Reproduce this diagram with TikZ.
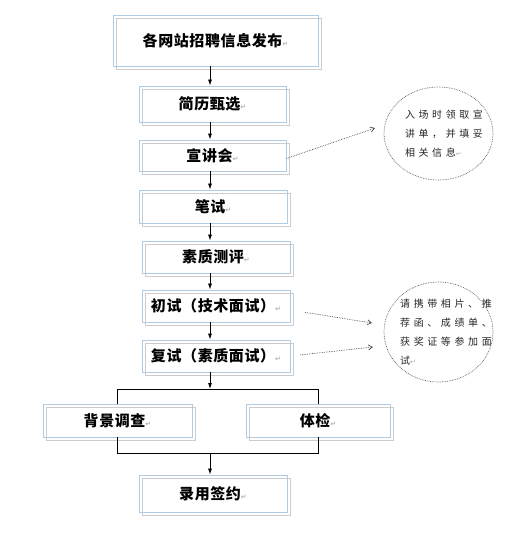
\documentclass[tikz,border=0pt]{standalone}
\usepackage{fontspec}
\newfontfamily\cjk[LetterSpace=4]{Noto Sans CJK SC}
\newfontfamily\notefont[LetterSpace=36]{Noto Sans CJK SC}
\newfontfamily\markfont{DejaVu Sans}
\usetikzlibrary{arrows.meta,positioning,calc,shapes.geometric}
\definecolor{boxblue}{RGB}{176,204,228}
\newcommand{\parmark}{{\markfont\fontsize{7}{7}\selectfont\color{gray!60}↵}}

\begin{document}
\begin{tikzpicture}[
    x=1pt, y=-1pt,
    every node/.style={font=\cjk\bfseries\fontsize{15}{18}\selectfont},
    stage/.style={rectangle, draw=boxblue, line width=0.9pt, inner sep=0pt,
                  align=center,
                  preaction={draw=gray!40, line width=0.9pt,
                             transform canvas={xshift=3pt, yshift=-3pt}}},
    note/.style={ellipse, draw=gray!70!black, densely dotted, line width=0.7pt,
                 inner sep=0pt},
    notetext/.style={font=\notefont\fontsize{10}{19}\selectfont, align=left,
                     text=black!85, inner sep=0pt},
    arr/.style={-{Latex[length=6pt, width=4pt]}, line width=0.8pt},
    link/.style={line width=0.8pt},
    hint/.style={-{Straight Barb[length=4pt, width=5pt]}, densely dotted,
                 gray!60!black, line width=0.7pt},
]
\useasboundingbox (0,0) rectangle (515,546);

% Main column of steps
\coordinate (spine) at (210,0);
\node[stage, minimum width=205, minimum height=51] (post)    at (215.5,40.5) {各网站招聘信息发布\parmark};
\node[stage, minimum width=147, minimum height=36] (screen)  at (212.5,104)  {简历甄选\parmark};
\node[stage, minimum width=147, minimum height=31] (talk)    at (212.5,155.5){宣讲会\parmark};
\node[stage, minimum width=148, minimum height=33] (written) at (213,206.5)  {笔试\parmark};
\node[stage, minimum width=148, minimum height=32] (quality) at (216,257)    {素质测评\parmark};
\node[stage, minimum width=148, minimum height=32] (first)   at (216,306)    {初试（技术面试）\parmark};
\node[stage, minimum width=148, minimum height=32] (second)  at (216,356)    {复试（素质面试）\parmark};

% Two parallel checks, then signing
\node[stage, minimum width=149, minimum height=33] (backgr)  at (117.5,420.5){背景调查\parmark};
\node[stage, minimum width=144, minimum height=33] (medical) at (318,420.5)  {体检\parmark};
\node[stage, minimum width=148, minimum height=37] (sign)    at (213,493.5)  {录用签约\parmark};

% Notes
\node[note, minimum width=109, minimum height=93]  (note1) at (438.5,133.5) {};
\node[notetext] (note1txt) at (444,133.5) {入场时领取宣\\讲单，并填妥\\相关信息\parmark};
\node[note, minimum width=109, minimum height=100] (note2) at (438.5,332) {};
\node[notetext] (note2txt) at (446,332) {请携带相片、推\\荐函、成绩单、\\获奖证等参加面\\试\parmark};

% Arrows
\draw[arr] (post.south -| spine)    -- (screen.north -| spine);
\draw[arr] (screen.south -| spine)  -- (talk.north -| spine);
\draw[arr] (talk.south -| spine)    -- (written.north -| spine);
\draw[arr] (written.south -| spine) -- (quality.north -| spine);
\draw[arr] (quality.south -| spine) -- (first.north -| spine);
\draw[arr] (first.south -| spine)   -- (second.north -| spine);

% Split and join
\coordinate (split) at (210,389);
\coordinate (join)  at (210,453);
\draw[arr]  (second.south -| spine) -- (split);
\draw[link] (backgr.north) -- (backgr.north |- split) -- (medical.north |- split) -- (medical.north);
\draw[link] (backgr.south) -- (backgr.south |- join) -- (medical.south |- join) -- (medical.south);
\draw[arr]  (join) -- (sign.north -| spine);

% Dotted pointers to the notes
\coordinate (tip1)  at (375,128);
\coordinate (tip2a) at (372,323);
\coordinate (tip2b) at (373,347);
\draw[hint] ([yshift=-3pt]talk.east) -- (tip1);
\draw[hint, shorten <=15pt] ([yshift=-4pt]first.east) -- (tip2a);
\draw[hint, shorten <=10pt] (second.east) -- (tip2b);

\end{tikzpicture}
\end{document}
